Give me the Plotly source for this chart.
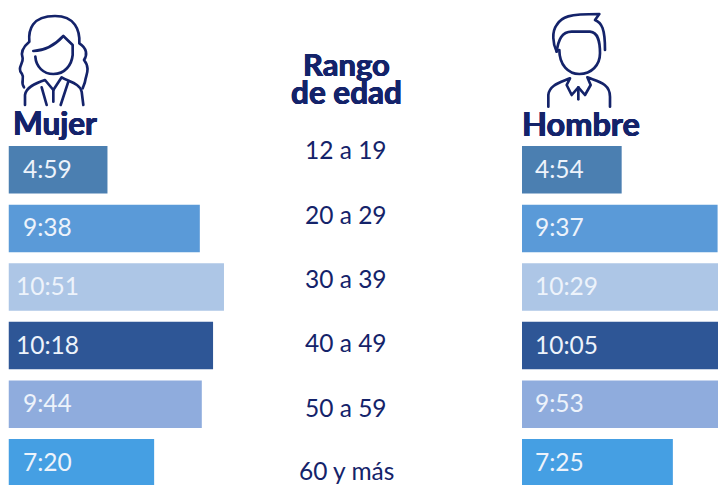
import base64
import plotly.graph_objects as go

W, H = 718, 485
rangos = ["12 a 19", "20 a 29", "30 a 39", "40 a 49", "50 a 59", "60 y más"]
mujer_labels = ["4:59", "9:38", "10:51", "10:18", "9:44", "7:20"]
hombre_labels = ["4:54", "9:37", "10:29", "10:05", "9:53", "7:25"]
mujer_seg = [299, 578, 651, 618, 584, 440]
hombre_seg = [294, 577, 629, 605, 593, 445]
colores = ["#4b7fb1", "#5a9ad8", "#adc6e6", "#2e5696", "#8facdd", "#459fe3"]

NAVY = "#14236a"
PALE = "#edf3fb"
FONT = "Lato"
GRUESO = f"0.5px 0 0 {NAVY}, -0.5px 0 0 {NAVY}, 0 0.4px 0 {NAVY}"


def px(v):
    return v / W


def py(v):
    return 1 - v / H


def svg_uri(paths):
    body = "".join(f'<path d="{d}"/>' for d in paths)
    svg = (
        '<svg xmlns="http://www.w3.org/2000/svg" width="720" height="720" viewBox="0 0 720 720">'
        f'<g fill="none" stroke="{NAVY}" stroke-width="8" stroke-linecap="round" stroke-linejoin="round">'
        f"{body}</g></svg>"
    )
    return "data:image/svg+xml;base64," + base64.b64encode(svg.encode()).decode()


mujer_icono = [
    "M72 262 C60 245 75 235 66 222 C50 205 70 190 68 175 C60 155 70 140 88 125 C85 90 95 48 165 48 "
    "C225 48 240 90 238 130 C262 145 262 165 252 180 C272 205 258 225 256 240 C255 250 250 258 248 265",
    "M100 153 C135 152 165 135 190 108 L218 135 L218 165 C215 195 195 222 160 222 C130 222 108 200 106 170",
    "M75 315 L75 285 C78 262 105 250 135 240 L160 270 L185 232 C205 245 240 250 245 275 L250 315",
    "M125 262 L140 315",
    "M160 270 L160 305",
    "M205 245 L182 315",
]
hombre_icono = [
    "M170 155 C158 130 155 95 170 75 C185 50 205 42 298 42 L285 60 C305 68 315 85 315 150",
    "M170 155 C175 120 185 95 215 95 L270 95 C295 97 300 125 300 160 C300 195 275 222 238 222 "
    "C205 222 178 195 178 150",
    "M145 320 L145 285 C148 255 180 248 210 235 L200 255 L215 285 L235 262 L255 285 L272 255 L262 232 "
    "C295 245 330 250 330 290 L330 320",
    "M235 262 L235 298",
]

fig = go.Figure()
for serie, xa, ya in [(mujer_seg, "x", "y"), (hombre_seg, "x2", "y2")]:
    fig.add_trace(
        go.Bar(
            x=serie,
            y=rangos,
            orientation="h",
            marker=dict(color=colores, line=dict(width=0)),
            xaxis=xa,
            yaxis=ya,
            showlegend=False,
            hoverinfo="skip",
        )
    )

annotations = []


def texto(t, x, y, size, color=NAVY, weight=None, xanchor="center", xref="paper", yref="paper", shadow=None, yshift=0):
    font = dict(family=FONT, size=size, color=color, weight=weight)
    if shadow:
        font["shadow"] = shadow
    annotations.append(
        dict(
            text=t,
            x=x,
            y=y,
            xref=xref,
            yref=yref,
            xanchor=xanchor,
            yanchor="middle",
            yshift=yshift,
            showarrow=False,
            font=font,
        )
    )


for r, m, h in zip(rangos, mujer_labels, hombre_labels):
    texto(m, 118, r, 24.5, PALE, xref="x", yref="y", yshift=1.5)
    texto(h, 33, r, 24.5, PALE, xanchor="left", xref="x2", yref="y2", yshift=1.5)

for r, yp in zip(rangos, [149, 214, 278, 342, 407, 470]):
    texto(r, px(346), py(yp), 24.5)

texto("Mujer", px(54.5), py(123), 31.5, weight=700, shadow=GRUESO)
texto("Hombre", px(581), py(123), 32.5, weight=700, shadow=GRUESO)
texto("Rango", px(346), py(64), 31, weight=700, shadow=GRUESO)
texto("de edad", px(346), py(92), 31.5, weight=700, shadow=GRUESO)

TOP = 140.5
PITCH = 58.6
ymax = (H - TOP) / PITCH - 0.5
y_axis = dict(
    domain=[0, 1 - TOP / H],
    range=[ymax, -0.5],
    type="category",
    categoryorder="array",
    categoryarray=rangos,
    visible=False,
)

fig.update_layout(
    width=W,
    height=H,
    margin=dict(l=0, r=0, t=0, b=0),
    paper_bgcolor="white",
    plot_bgcolor="white",
    bargap=0.19,
    xaxis=dict(domain=[px(8.5), px(300)], range=[0, 291.5 / 0.331], visible=False),
    xaxis2=dict(domain=[px(522), 1], range=[0, 196 / 0.339], visible=False),
    yaxis=dict(anchor="x", **y_axis),
    yaxis2=dict(anchor="x2", **y_axis),
    annotations=annotations,
    images=[
        dict(
            source=svg_uri(mujer_icono),
            xref="paper",
            yref="paper",
            x=0,
            y=1,
            sizex=240 / W,
            sizey=240 / H,
            sizing="stretch",
            xanchor="left",
            yanchor="top",
            layer="above",
        ),
        dict(
            source=svg_uri(hombre_icono),
            xref="paper",
            yref="paper",
            x=px(500),
            y=1,
            sizex=240 / W,
            sizey=240 / H,
            sizing="stretch",
            xanchor="left",
            yanchor="top",
            layer="above",
        ),
    ],
)

fig.write_html(
    "out.html",
    config={"displayModeBar": False},
    post_script="document.body.style.margin='0';document.body.style.overflow='hidden';",
)
